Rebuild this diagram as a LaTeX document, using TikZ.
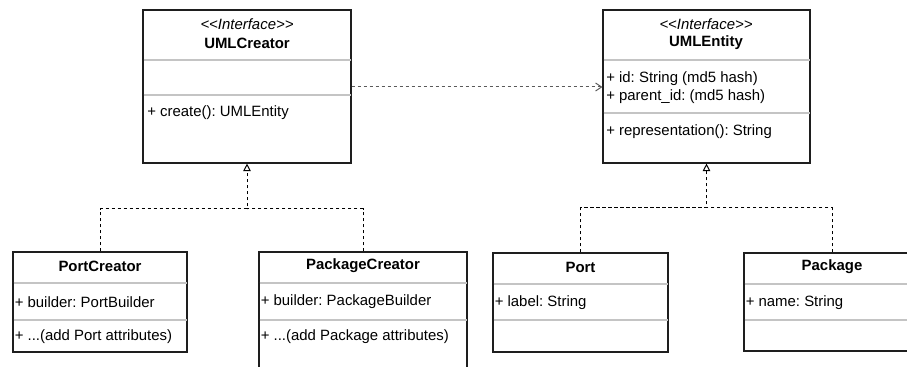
\documentclass[tikz,border=0pt]{standalone}
\usepackage{fontspec}
\setmainfont{Liberation Sans}
\usetikzlibrary{arrows.meta,fit}
\frenchspacing

\definecolor{boxline}{HTML}{1E1E1E}
\definecolor{rule}{HTML}{C4C4C4}
\definecolor{depline}{HTML}{5A5A5A}

\newcommand{\stereotype}[1]{{<}{<}#1{>}{>}}

\tikzset{
  classbox/.style={draw=boxline, line width=0.85pt, inner sep=0pt, rectangle},
  divider/.style={draw=rule, line width=0.9pt},
  stereo/.style={font=\fontsize{11.2}{13}\selectfont\itshape, inner sep=0pt},
  classname/.style={font=\fontsize{11.2}{13}\selectfont\bfseries, inner sep=0pt},
  member/.style={font=\fontsize{11.2}{13}\selectfont, inner sep=0pt, anchor=west},
  realize/.style={draw=black, line width=0.75pt, dash pattern=on 2.6pt off 1.9pt},
  realtip/.style={-{Triangle[open, length=5.6pt, width=5.6pt, line width=0.75pt]}},
  depend/.style={draw=depline, line width=0.75pt, dash pattern=on 2.6pt off 1.9pt,
    -{Straight Barb[length=4.5pt, width=6pt, line width=0.75pt]}}
}

\begin{document}
\begin{tikzpicture}[x=0.75pt, y=-0.75pt]
\useasboundingbox (0,0) rectangle (907,367);
\clip (0,0) rectangle (907,367);

% interface UMLCreator
\node[classbox, fit={(143,10) (351,163)}] (creator) {};
\draw[divider] (143.5,60) -- (350.5,60);
\draw[divider] (143.5,95) -- (350.5,95);
\node[stereo] (creatorStereo) at (247,24) {\stereotype{Interface}};
\node[classname] (creatorName) at (247,43) {UMLCreator};
\node[member] (creatorOp) at (147,113) {+ create(): UMLEntity};

% interface UMLEntity
\node[classbox, fit={(603,10) (810,163)}] (entity) {};
\draw[divider] (603.5,60) -- (809.5,60);
\draw[divider] (603.5,113) -- (809.5,113);
\node[stereo] (entityStereo) at (706,24) {\stereotype{Interface}};
\node[classname] (entityName) at (706,43) {UMLEntity};
\node[member] (entityId) at (606,79) {+ id: String (md5 hash)};
\node[member] (entityParent) at (606,97) {+ parent\_id: (md5 hash)};
\node[member] (entityRepr) at (606,132) {+ representation(): String};

% class PortCreator
\node[classbox, fit={(13,252) (187,352)}] (portc) {};
\draw[divider] (13.5,283) -- (186.5,283);
\draw[divider] (13.5,320) -- (186.5,320);
\node[classname] (portcName) at (100,266) {PortCreator};
\node[member] (portcBuilder) at (14.5,302) {+ builder: PortBuilder};
\node[member] (portcAttr) at (14.5,337) {+ ...(add Port attributes)};

% class PackageCreator
\node[classbox, fit={(259,252) (467,400)}] (pkgc) {};
\draw[divider] (259.5,283) -- (466.5,283);
\draw[divider] (259.5,320) -- (466.5,320);
\node[classname] (pkgcName) at (363,266) {PackageCreator};
\node[member] (pkgcBuilder) at (260.5,302) {+ builder: PackageBuilder};
\node[member] (pkgcAttr) at (260.5,337) {+ ...(add Package attributes)};

% class Port
\node[classbox, fit={(493,253) (668,352)}] (port) {};
\draw[divider] (493.5,284) -- (667.5,284);
\draw[divider] (493.5,320) -- (667.5,320);
\node[classname] (portName) at (580.5,267) {Port};
\node[member] (portLabel) at (494.5,303) {+ label: String};

% class Package
\node[classbox, fit={(744,253) (920,351)}] (pkg) {};
\draw[divider] (744.5,284) -- (907,284);
\draw[divider] (744.5,320) -- (907,320);
\node[classname] (pkgName) at (832,267) {Package};
\node[member] (pkgField) at (745.5,303) {+ name: String};

% dependency: creator -> entity
\coordinate (depRow) at (0,87);
\draw[depend] (creator.east |- depRow) -- (entity.west |- depRow);

% realizations of UMLCreator
\coordinate (creatorJoin) at (247,209);
\draw[realize, realtip] (portc.north) |- (creatorJoin) -- (creator.south);
\draw[realize] (pkgc.north) |- (creatorJoin);

% realizations of UMLEntity
\coordinate (entityJoin) at (706.5,208);
\draw[realize, realtip] (port.north) |- (entityJoin) -- (entity.south);
\draw[realize] (pkg.north) |- (entityJoin);
\end{tikzpicture}
\end{document}
